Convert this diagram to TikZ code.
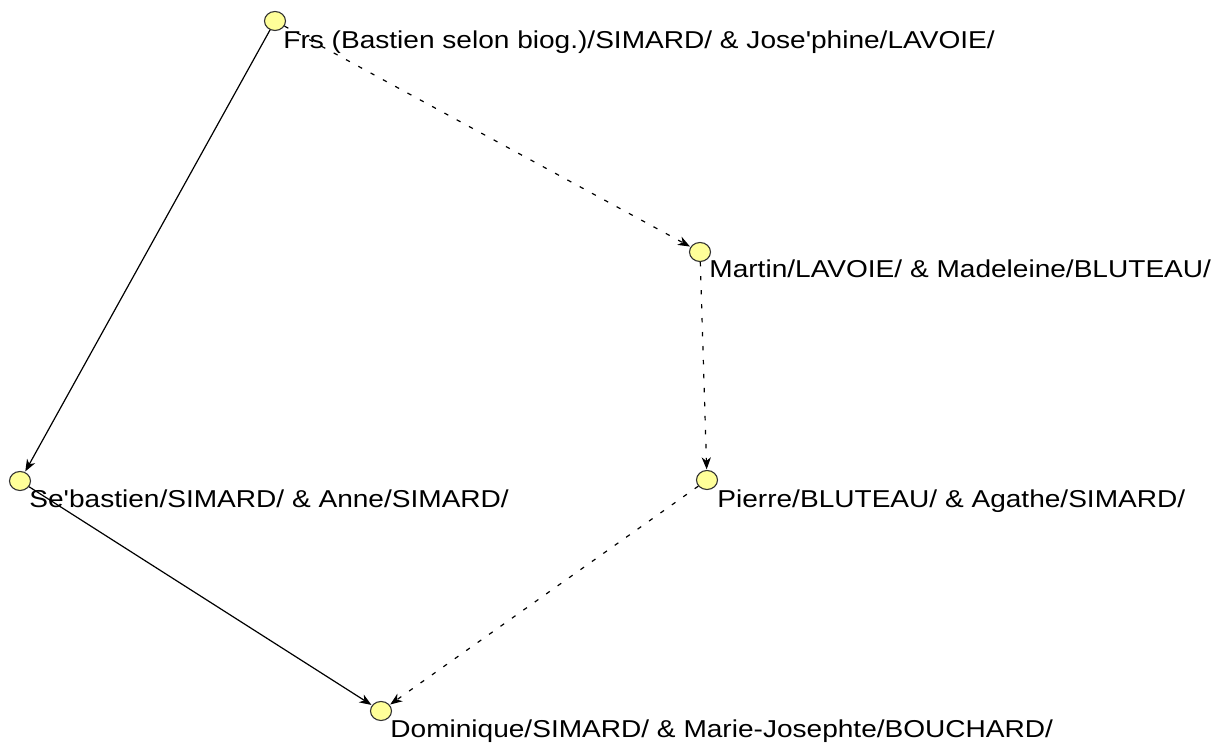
\documentclass[tikz,border=0pt]{standalone}
\usepackage{fontspec}
\usetikzlibrary{shapes.geometric,arrows.meta}
\newfontfamily\lblfont{Liberation Sans}[FakeStretch=1.15]
\definecolor{famfill}{RGB}{255,255,153}
\definecolor{famedge}{RGB}{50,50,50}
\tikzset{
  fam/.style={ellipse, draw=famedge, fill=famfill, line width=0.55pt,
    minimum width=10.5pt, minimum height=9.5pt, inner sep=0pt},
  famlabel/.style={anchor=base west, inner sep=0pt,
    font=\lblfont\fontsize{12.2}{14}\selectfont},
  link/.style={line width=0.6pt, -{Stealth[length=6pt, width=4.6pt, inset=1.8pt]}, shorten >=0.3pt},
  maybe/.style={link, dash pattern=on 2.2pt off 4.8pt},
}
\begin{document}
\begin{tikzpicture}[x=0.5pt, y=-0.5pt]
  \fill[white] (0,0) rectangle (1223,747);
  \useasboundingbox (0,0) rectangle (1223,747);

  % family nodes
  \node[fam] (frs) at (275,21) {};
  \node[fam] (martin) at (700,252) {};
  \node[fam] (seb) at (20,481) {};
  \node[fam] (pierre) at (707,480) {};
  \node[fam] (dom) at (381,711) {};

  % connections
  \draw[link] (frs) -- (seb);
  \draw[maybe] (frs) -- (martin);
  \draw[maybe] (martin) -- (pierre);
  \draw[link] (seb) -- (dom);
  \draw[maybe] (pierre) -- (dom);

  % couple names
  \node[famlabel] (frsL) at (283,49) {Frs (Bastien selon biog.)/SIMARD/ \& Jose'phine/LAVOIE/};
  \node[famlabel] (martinL) at (709,278) {Martin/LAVOIE/ \& Madeleine/BLUTEAU/};
  \node[famlabel] (sebL) at (29,508) {Se'bastien/SIMARD/ \& Anne/SIMARD/};
  \node[famlabel] (pierreL) at (717,508) {Pierre/BLUTEAU/ \& Agathe/SIMARD/};
  \node[famlabel] (domL) at (390,738) {Dominique/SIMARD/ \& Marie-Josephte/BOUCHARD/};
\end{tikzpicture}
\end{document}
